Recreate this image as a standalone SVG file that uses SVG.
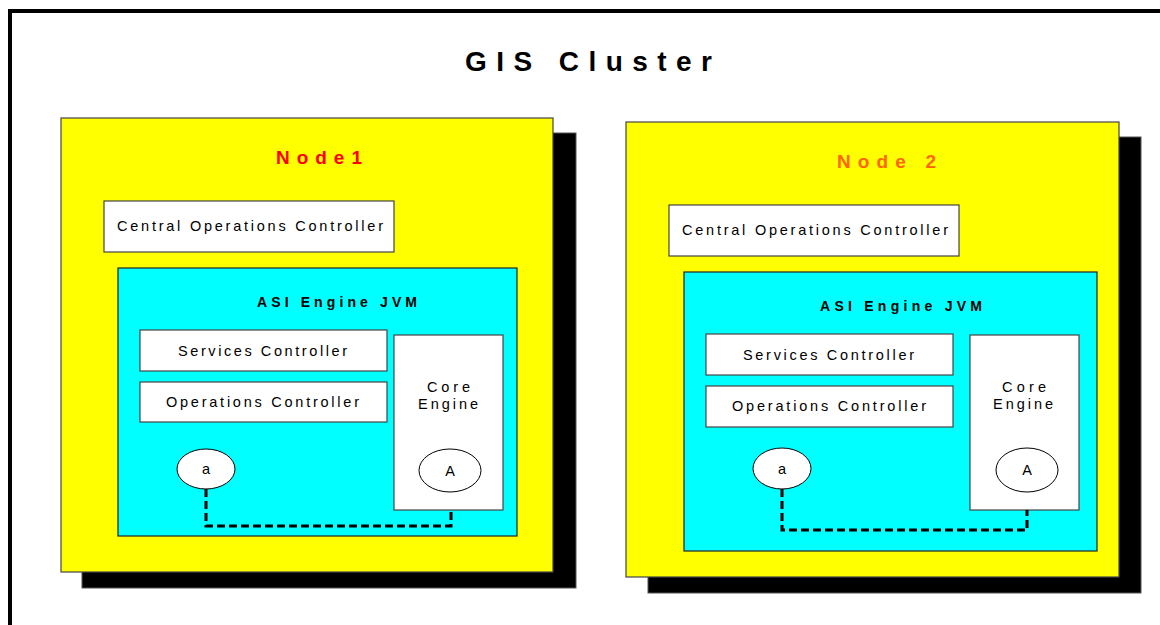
<svg xmlns="http://www.w3.org/2000/svg" width="1160" height="625" viewBox="0 0 1160 625">
<style>
text{font-family:"Liberation Sans",Arial,sans-serif;fill:#000}
.frame{fill:#fff;stroke:#000;stroke-width:4}
.shadow{fill:#000;stroke:#555;stroke-width:1}
.node{fill:#ffff00;stroke:#444;stroke-width:1.2}
.jvm{fill:#00ffff;stroke:#222;stroke-width:1.2}
.box{fill:#fff;stroke:#444;stroke-width:1.2}
.ell{fill:#fff;stroke:#000;stroke-width:1}
.t{font-size:14.5px}
.b{font-size:14px;font-weight:bold}
.title{font-size:28px;font-weight:bold}
.nl{font-size:19px;font-weight:bold}
.c{font-size:14.5px;text-anchor:middle}
.dash{fill:none;stroke:#000;stroke-width:3;stroke-dasharray:8 4}
</style>
<rect class="frame" x="10" y="11" width="1200" height="700"/>
<text class="title" x="465" y="71" textLength="247" lengthAdjust="spacing">GIS Cluster</text>

<g id="node1">
<rect class="shadow" x="82" y="133" width="494" height="455"/>
<rect class="node" x="61" y="118" width="492" height="454"/>
<text class="nl" x="276" y="164" style="fill:#ff0000" textLength="86" lengthAdjust="spacing">Node1</text>
<g id="n1-coc">
<rect class="box" x="104" y="201" width="290" height="51"/>
<text class="t" x="117" y="231" textLength="266" lengthAdjust="spacing">Central Operations Controller</text>
</g>
<g id="n1-jvm">
<rect class="jvm" x="118" y="268" width="399" height="268"/>
<text class="b" x="257" y="307" textLength="160" lengthAdjust="spacing">ASI Engine  JVM</text>
</g>
<g id="n1-sc">
<rect class="box" x="140" y="330" width="247" height="41"/>
<text class="t" x="178" y="356" textLength="169" lengthAdjust="spacing">Services Controller</text>
</g>
<g id="n1-oc">
<rect class="box" x="140" y="382" width="247" height="40"/>
<text class="t" x="166" y="407" textLength="193" lengthAdjust="spacing">Operations Controller</text>
</g>
<g id="n1-core">
<rect class="box" x="394" y="335" width="109" height="175"/>
<text class="t" x="427" y="392" textLength="43" lengthAdjust="spacing">Core</text>
<text class="t" x="418" y="409" textLength="60" lengthAdjust="spacing">Engine</text>
</g>
<g id="n1-a">
<ellipse class="ell" cx="206" cy="469" rx="29" ry="20"/>
<text class="c" x="206" y="474">a</text>
</g>
<g id="n1-A">
<ellipse class="ell" cx="450" cy="470.5" rx="31" ry="21.5"/>
<text class="c" x="450" y="476">A</text>
</g>
</g>

<g id="node2">
<rect class="shadow" x="648" y="137" width="493" height="456"/>
<rect class="node" x="626" y="122" width="493" height="455"/>
<text class="nl" x="837" y="168" style="fill:#ff6600" textLength="99" lengthAdjust="spacing">Node 2</text>
<g id="n2-coc">
<rect class="box" x="669" y="205" width="290" height="51"/>
<text class="t" x="682" y="235" textLength="266" lengthAdjust="spacing">Central Operations Controller</text>
</g>
<g id="n2-jvm">
<rect class="jvm" x="684" y="272" width="413" height="279"/>
<text class="b" x="820" y="311" textLength="162" lengthAdjust="spacing">ASI Engine  JVM</text>
</g>
<g id="n2-sc">
<rect class="box" x="706" y="334" width="247" height="41"/>
<text class="t" x="743" y="360" textLength="171" lengthAdjust="spacing">Services Controller</text>
</g>
<g id="n2-oc">
<rect class="box" x="706" y="386" width="247" height="41"/>
<text class="t" x="732" y="411" textLength="194" lengthAdjust="spacing">Operations Controller</text>
</g>
<g id="n2-core">
<rect class="box" x="970" y="335" width="109" height="175"/>
<text class="t" x="1002" y="392" textLength="44" lengthAdjust="spacing">Core</text>
<text class="t" x="993" y="409" textLength="60" lengthAdjust="spacing">Engine</text>
</g>
<g id="n2-a">
<ellipse class="ell" cx="782" cy="468.5" rx="29" ry="20.5"/>
<text class="c" x="782" y="474">a</text>
</g>
<g id="n2-A">
<ellipse class="ell" cx="1027" cy="470" rx="31" ry="22"/>
<text class="c" x="1027" y="475">A</text>
</g>
</g>

<g id="connectors">
<path class="dash" d="M206 489 V526 H451 V510"/>
<path class="dash" d="M782 489 V530 H1027 V510"/>
</g>
</svg>
